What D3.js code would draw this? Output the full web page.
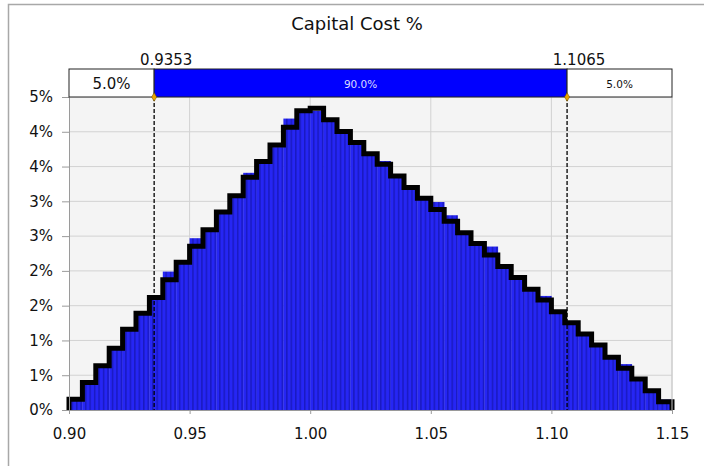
<!DOCTYPE html>
<html>
<head>
<meta charset="utf-8">
<script src="https://cdn.jsdelivr.net/npm/d3@7"></script>
<style>
  body { margin: 0; background: #fff; }
  text { font-family: "DejaVu Sans", Verdana, sans-serif; }
</style>
</head>
<body>
<div id="chart"></div>
<script>
// chart values (percent per bin, 45 bins from 0.90 to 1.15)
const chartTitle = "Capital Cost %";
const binRange = [0.90, 1.15];
const fittedPct = [0.154, 0.396, 0.637, 0.888, 1.161, 1.391, 1.616, 1.871, 2.125, 2.353,
    2.590, 2.845, 3.079, 3.345, 3.573, 3.809, 4.065, 4.302, 4.338, 4.173,
    4.004, 3.845, 3.683, 3.532, 3.363, 3.199, 3.043, 2.882, 2.715, 2.550,
    2.393, 2.230, 2.062, 1.904, 1.737, 1.583, 1.414, 1.256, 1.094, 0.935,
    0.758, 0.600, 0.446, 0.278, 0.119];
const simulatedPct = [0.13, 0.37, 0.62, 0.87, 1.19, 1.38, 1.59, 1.99, 2.13, 2.47,
    2.57, 2.83, 3.05, 3.41, 3.55, 3.78, 4.19, 4.27, 4.30, 4.15,
    3.98, 3.82, 3.66, 3.58, 3.34, 3.17, 3.02, 2.99, 2.80, 2.53,
    2.37, 2.35, 2.04, 1.88, 1.71, 1.64, 1.39, 1.23, 1.07, 0.91,
    0.74, 0.66, 0.43, 0.26, 0.15];
const xTickValues = [0.90, 0.95, 1.00, 1.05, 1.10, 1.15];
const yTickValues = [0, 0.5, 1, 1.5, 2, 2.5, 3, 3.5, 4, 4.5];
const yTickLabels = ["0%", "1%", "1%", "2%", "2%", "3%", "3%", "4%", "4%", "5%"];
const cutValues = [0.9353, 1.1065];
const bandLabels = ["5.0%", "90.0%", "5.0%"];

const width = 704, height = 466;
const margin = { top: 97, right: 32, bottom: 56, left: 69 };

const svg = d3.select("#chart")
    .append("svg")
    .attr("width", width)
    .attr("height", height);

// stripe texture for the blue bars
const pat = svg.append("defs").append("pattern")
    .attr("id", "stripes")
    .attr("patternUnits", "userSpaceOnUse")
    .attr("width", 4.47).attr("height", 10);
pat.append("rect").attr("width", 4.47).attr("height", 10).attr("fill", "#2626f4");
pat.append("rect").attr("width", 1.5).attr("height", 10).attr("fill", "#1a1ac0");

// outer frame
svg.append("rect")
    .attr("x", 8.5).attr("y", 4.5)
    .attr("width", 800).attr("height", 800)
    .attr("fill", "none")
    .attr("stroke", "#a8a8a8")
    .attr("stroke-width", 1.5);

const x = d3.scaleLinear().domain(binRange).range([margin.left, width - margin.right]);
const y = d3.scaleLinear().domain([0, 4.5]).range([height - margin.bottom, margin.top]);

const binW = (binRange[1] - binRange[0]) / fittedPct.length;
const edges = fittedPct.map((d, i) => binRange[0] + i * binW);

// plot background
svg.append("rect")
    .attr("x", x(binRange[0])).attr("y", y(4.5))
    .attr("width", x(binRange[1]) - x(binRange[0]))
    .attr("height", y(0) - y(4.5))
    .attr("fill", "#f4f4f4");

// grid
svg.append("g")
    .selectAll("line")
    .data(yTickValues.slice(1))
    .join("line")
    .attr("x1", x(binRange[0])).attr("x2", x(binRange[1]))
    .attr("y1", d => y(d)).attr("y2", d => y(d))
    .attr("stroke", "#d2d2d2");
svg.append("g")
    .selectAll("line")
    .data(xTickValues.slice(1))
    .join("line")
    .attr("x1", d => x(d)).attr("x2", d => x(d))
    .attr("y1", y(0)).attr("y2", y(4.5))
    .attr("stroke", "#d2d2d2");

// blue histogram
svg.append("g")
    .selectAll("rect")
    .data(simulatedPct)
    .join("rect")
    .attr("x", (d, i) => x(edges[i]))
    .attr("width", x(binRange[0] + binW) - x(binRange[0]) + 0.3)
    .attr("y", d => y(d))
    .attr("height", d => y(0) - y(d))
    .attr("fill", "url(#stripes)");

// cut lines
svg.append("g")
    .selectAll("line")
    .data(cutValues)
    .join("line")
    .attr("x1", d => x(d)).attr("x2", d => x(d))
    .attr("y1", y(4.5)).attr("y2", y(0))
    .attr("stroke", "#000")
    .attr("stroke-width", 1.3)
    .attr("stroke-dasharray", "4,2");

// fitted step outline
const stepPts = [[binRange[0], 0]];
fittedPct.forEach((d, i) => {
    stepPts.push([edges[i], d]);
    stepPts.push([edges[i] + binW, d]);
});
stepPts.push([binRange[1], 0]);
svg.append("path")
    .datum(stepPts)
    .attr("fill", "none")
    .attr("stroke", "#000")
    .attr("stroke-width", 5)
    .attr("stroke-linejoin", "miter")
    .attr("d", d3.line().x(d => x(d[0])).y(d => y(d[1])));

// axes
const yAxis = svg.append("g")
    .attr("transform", `translate(${x(binRange[0])},0)`)
    .call(d3.axisLeft(y).tickValues(yTickValues).tickSize(7).tickPadding(9)
        .tickFormat((d, i) => yTickLabels[i]));
const xAxis = svg.append("g")
    .attr("transform", `translate(0,${y(0)})`)
    .call(d3.axisBottom(x).tickValues(xTickValues).tickSize(4).tickPadding(14)
        .tickFormat(d3.format(".2f")));
[yAxis, xAxis].forEach(a => {
    a.select(".domain").attr("stroke", "#9a9a9a");
    a.selectAll(".tick line").attr("stroke", "#9a9a9a");
    a.selectAll("text").attr("fill", "#111").style("font-size", "15px")
        .style("font-family", "\"DejaVu Sans\", Verdana, sans-serif");
});
// right edge of plot
svg.append("line")
    .attr("x1", x(binRange[1])).attr("x2", x(binRange[1]))
    .attr("y1", y(0)).attr("y2", y(4.5))
    .attr("stroke", "#c8c8c8");

// top band
const bandTop = 69;
const bandEdges = [binRange[0], cutValues[0], cutValues[1], binRange[1]];
const band = svg.append("g");
band.selectAll("rect")
    .data(bandLabels)
    .join("rect")
    .attr("x", (d, i) => x(bandEdges[i]))
    .attr("y", bandTop)
    .attr("width", (d, i) => x(bandEdges[i + 1]) - x(bandEdges[i]))
    .attr("height", y(4.5) - bandTop)
    .attr("fill", (d, i) => i === 1 ? "#0000ff" : "#fff")
    .attr("stroke", "#222")
    .attr("stroke-width", 1);
band.selectAll("text")
    .data(bandLabels)
    .join("text")
    .attr("x", (d, i) => (x(bandEdges[i]) + x(bandEdges[i + 1])) / 2)
    .attr("y", (bandTop + y(4.5)) / 2 + 1)
    .attr("text-anchor", "middle")
    .attr("dominant-baseline", "central")
    .attr("fill", (d, i) => i === 1 ? "#dcdcff" : "#111")
    .style("font-size", (d, i) => i === 0 ? "15px" : "10.5px")
    .text(d => d);

// cut value labels and markers
svg.append("g")
    .selectAll("text")
    .data(cutValues)
    .join("text")
    .attr("x", d => x(d) + 12)
    .attr("y", 65)
    .attr("text-anchor", "middle")
    .attr("fill", "#111")
    .style("font-size", "15px")
    .text(d => d3.format(".4f")(d));
svg.append("g")
    .selectAll("path")
    .data(cutValues)
    .join("path")
    .attr("transform", d => `translate(${x(d)},${y(4.5)})`)
    .attr("d", d3.symbol(d3.symbolDiamond, 22))
    .attr("fill", "#e8a400")
    .attr("stroke", "#6a4a00")
    .attr("stroke-width", 0.5);

// title
svg.append("text")
    .attr("x", 357)
    .attr("y", 30)
    .attr("text-anchor", "middle")
    .attr("fill", "#111")
    .style("font-size", "18px")
    .text(chartTitle);
</script>
</body>
</html>
